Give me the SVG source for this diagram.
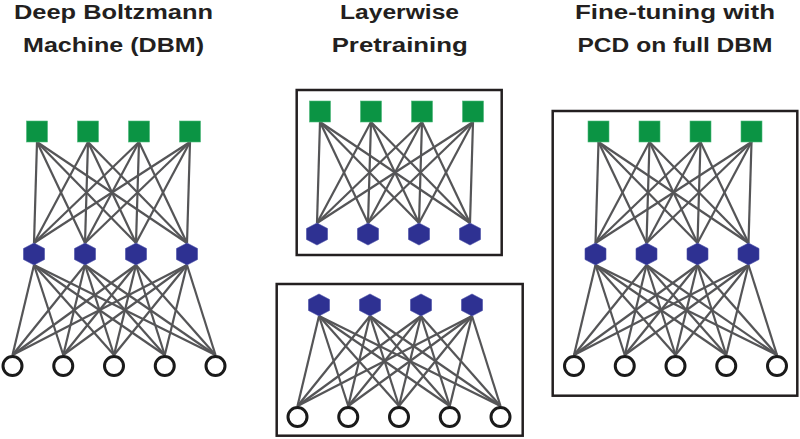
<svg xmlns="http://www.w3.org/2000/svg" xmlns:xlink="http://www.w3.org/1999/xlink" width="800" height="439" viewBox="0 0 800 439">
<style>
.title{font-family:"Liberation Sans","Open Sans",sans-serif;font-weight:bold;font-size:20px;fill:#231f20;text-anchor:middle}
.box{fill:none;stroke:#231f20;stroke-width:2.5}
.e{stroke:#555557;stroke-width:2.2;fill:none}
.sq{fill:#0b9444;stroke:#4cb87a;stroke-width:0.6}
.hx{fill:#2e3192;stroke:#4a4fa8;stroke-width:0.6}
.ci{fill:#fff;stroke:#1a1a1a;stroke-width:3}
</style>
<defs>
<polygon id="hexshape" points="0,-11 10.5,-5.5 10.5,5.5 0,11 -10.5,5.5 -10.5,-5.5"/>
<g id="topEdges">
<line x1="37" y1="142" x2="34" y2="243"/><line x1="37" y1="142" x2="85" y2="243"/><line x1="37" y1="142" x2="136" y2="243"/><line x1="37" y1="142" x2="187" y2="243"/>
<line x1="88" y1="142" x2="34" y2="243"/><line x1="88" y1="142" x2="85" y2="243"/><line x1="88" y1="142" x2="136" y2="243"/><line x1="88" y1="142" x2="187" y2="243"/>
<line x1="139" y1="142" x2="34" y2="243"/><line x1="139" y1="142" x2="85" y2="243"/><line x1="139" y1="142" x2="136" y2="243"/><line x1="139" y1="142" x2="187" y2="243"/>
<line x1="190" y1="142" x2="34" y2="243"/><line x1="190" y1="142" x2="85" y2="243"/><line x1="190" y1="142" x2="136" y2="243"/><line x1="190" y1="142" x2="187" y2="243"/>
</g>
<g id="botEdges">
<line x1="34" y1="265" x2="12.5" y2="355"/><line x1="34" y1="265" x2="63.25" y2="355"/><line x1="34" y1="265" x2="114" y2="355"/><line x1="34" y1="265" x2="164.75" y2="355"/><line x1="34" y1="265" x2="215.5" y2="355"/>
<line x1="85" y1="265" x2="12.5" y2="355"/><line x1="85" y1="265" x2="63.25" y2="355"/><line x1="85" y1="265" x2="114" y2="355"/><line x1="85" y1="265" x2="164.75" y2="355"/><line x1="85" y1="265" x2="215.5" y2="355"/>
<line x1="136" y1="265" x2="12.5" y2="355"/><line x1="136" y1="265" x2="63.25" y2="355"/><line x1="136" y1="265" x2="114" y2="355"/><line x1="136" y1="265" x2="164.75" y2="355"/><line x1="136" y1="265" x2="215.5" y2="355"/>
<line x1="187" y1="265" x2="12.5" y2="355"/><line x1="187" y1="265" x2="63.25" y2="355"/><line x1="187" y1="265" x2="114" y2="355"/><line x1="187" y1="265" x2="164.75" y2="355"/><line x1="187" y1="265" x2="215.5" y2="355"/>
</g>
</defs>
<rect width="800" height="439" fill="#fff"/>

<g id="titles">
<text class="title" x="113.5" y="19" textLength="199" lengthAdjust="spacingAndGlyphs">Deep Boltzmann</text>
<text class="title" x="113.5" y="51.5" textLength="181" lengthAdjust="spacingAndGlyphs">Machine (DBM)</text>
<text class="title" x="399.5" y="19" textLength="119" lengthAdjust="spacingAndGlyphs">Layerwise</text>
<text class="title" x="399.7" y="51.5" textLength="136" lengthAdjust="spacingAndGlyphs">Pretraining</text>
<text class="title" x="675" y="19" textLength="200" lengthAdjust="spacingAndGlyphs">Fine-tuning with</text>
<text class="title" x="675" y="51.5" textLength="195" lengthAdjust="spacingAndGlyphs">PCD on full DBM</text>
</g>

<g id="boxes">
<rect class="box" x="296.7" y="90" width="205" height="165"/>
<rect class="box" x="276.7" y="284" width="246" height="151.7"/>
<rect class="box" x="552.7" y="111" width="244.6" height="284.7"/>
</g>

<g id="connectors" class="e">
<use xlink:href="#topEdges"/>
<use xlink:href="#botEdges"/>
<use xlink:href="#topEdges" transform="translate(283,-20)"/>
<use xlink:href="#botEdges" transform="translate(285,51)"/>
<use xlink:href="#topEdges" transform="translate(561.5,0)"/>
<use xlink:href="#botEdges" transform="translate(561.5,0)"/>
</g>

<!-- Left DBM -->
<g id="dbm">
<g id="dbm-h2-1"><rect class="sq" x="26.5" y="121" width="21" height="21"/></g>
<g id="dbm-h2-2"><rect class="sq" x="77.5" y="121" width="21" height="21"/></g>
<g id="dbm-h2-3"><rect class="sq" x="128.5" y="121" width="21" height="21"/></g>
<g id="dbm-h2-4"><rect class="sq" x="179.5" y="121" width="21" height="21"/></g>
<g id="dbm-h1-1"><use class="hx" xlink:href="#hexshape" x="34" y="254"/></g>
<g id="dbm-h1-2"><use class="hx" xlink:href="#hexshape" x="85" y="254"/></g>
<g id="dbm-h1-3"><use class="hx" xlink:href="#hexshape" x="136" y="254"/></g>
<g id="dbm-h1-4"><use class="hx" xlink:href="#hexshape" x="187" y="254"/></g>
<g id="dbm-v-1"><circle class="ci" cx="12.5" cy="366" r="9.5"/></g>
<g id="dbm-v-2"><circle class="ci" cx="63.25" cy="366" r="9.5"/></g>
<g id="dbm-v-3"><circle class="ci" cx="114" cy="366" r="9.5"/></g>
<g id="dbm-v-4"><circle class="ci" cx="164.75" cy="366" r="9.5"/></g>
<g id="dbm-v-5"><circle class="ci" cx="215.5" cy="366" r="9.5"/></g>
</g>

<!-- Layerwise top RBM -->
<g id="rbm2" transform="translate(283,-20)">
<g id="rbm2-h2-1"><rect class="sq" x="26.5" y="121" width="21" height="21"/></g>
<g id="rbm2-h2-2"><rect class="sq" x="77.5" y="121" width="21" height="21"/></g>
<g id="rbm2-h2-3"><rect class="sq" x="128.5" y="121" width="21" height="21"/></g>
<g id="rbm2-h2-4"><rect class="sq" x="179.5" y="121" width="21" height="21"/></g>
<g id="rbm2-h1-1"><use class="hx" xlink:href="#hexshape" x="34" y="254"/></g>
<g id="rbm2-h1-2"><use class="hx" xlink:href="#hexshape" x="85" y="254"/></g>
<g id="rbm2-h1-3"><use class="hx" xlink:href="#hexshape" x="136" y="254"/></g>
<g id="rbm2-h1-4"><use class="hx" xlink:href="#hexshape" x="187" y="254"/></g>
</g>

<!-- Layerwise bottom RBM -->
<g id="rbm1" transform="translate(285,51)">
<g id="rbm1-h1-1"><use class="hx" xlink:href="#hexshape" x="34" y="254"/></g>
<g id="rbm1-h1-2"><use class="hx" xlink:href="#hexshape" x="85" y="254"/></g>
<g id="rbm1-h1-3"><use class="hx" xlink:href="#hexshape" x="136" y="254"/></g>
<g id="rbm1-h1-4"><use class="hx" xlink:href="#hexshape" x="187" y="254"/></g>
<g id="rbm1-v-1"><circle class="ci" cx="12.5" cy="366" r="9.5"/></g>
<g id="rbm1-v-2"><circle class="ci" cx="63.25" cy="366" r="9.5"/></g>
<g id="rbm1-v-3"><circle class="ci" cx="114" cy="366" r="9.5"/></g>
<g id="rbm1-v-4"><circle class="ci" cx="164.75" cy="366" r="9.5"/></g>
<g id="rbm1-v-5"><circle class="ci" cx="215.5" cy="366" r="9.5"/></g>
</g>

<!-- Fine-tuning full DBM -->
<g id="ft" transform="translate(561.5,0)">
<g id="ft-h2-1"><rect class="sq" x="26.5" y="121" width="21" height="21"/></g>
<g id="ft-h2-2"><rect class="sq" x="77.5" y="121" width="21" height="21"/></g>
<g id="ft-h2-3"><rect class="sq" x="128.5" y="121" width="21" height="21"/></g>
<g id="ft-h2-4"><rect class="sq" x="179.5" y="121" width="21" height="21"/></g>
<g id="ft-h1-1"><use class="hx" xlink:href="#hexshape" x="34" y="254"/></g>
<g id="ft-h1-2"><use class="hx" xlink:href="#hexshape" x="85" y="254"/></g>
<g id="ft-h1-3"><use class="hx" xlink:href="#hexshape" x="136" y="254"/></g>
<g id="ft-h1-4"><use class="hx" xlink:href="#hexshape" x="187" y="254"/></g>
<g id="ft-v-1"><circle class="ci" cx="12.5" cy="366" r="9.5"/></g>
<g id="ft-v-2"><circle class="ci" cx="63.25" cy="366" r="9.5"/></g>
<g id="ft-v-3"><circle class="ci" cx="114" cy="366" r="9.5"/></g>
<g id="ft-v-4"><circle class="ci" cx="164.75" cy="366" r="9.5"/></g>
<g id="ft-v-5"><circle class="ci" cx="215.5" cy="366" r="9.5"/></g>
</g>
</svg>
